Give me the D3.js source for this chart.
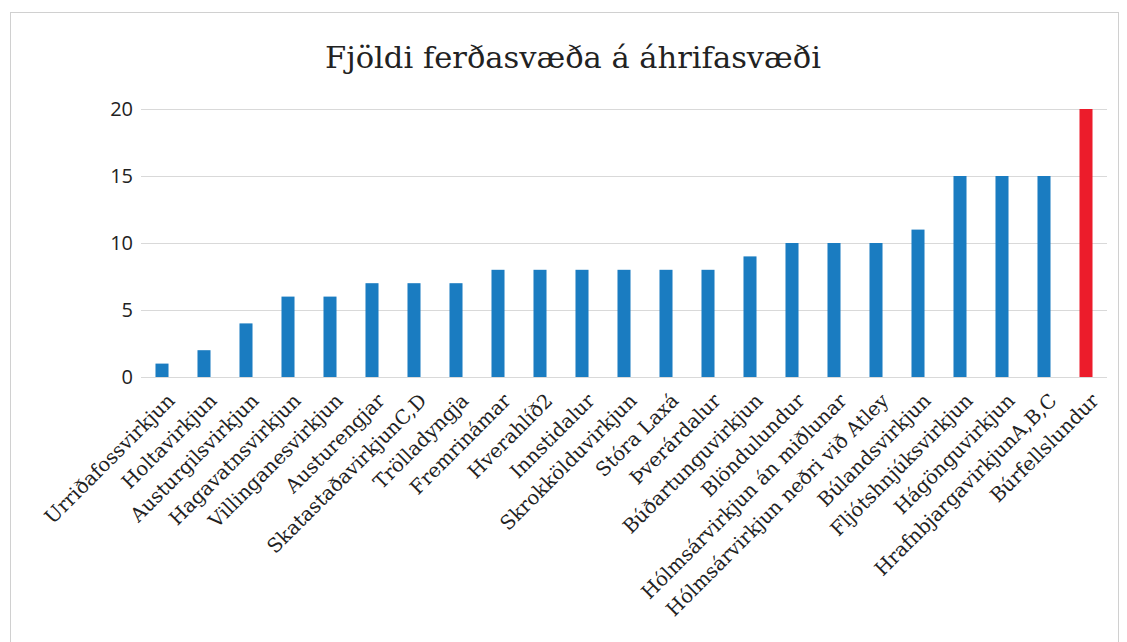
<!DOCTYPE html>
<html><head><meta charset="utf-8">
<script src="https://cdn.jsdelivr.net/npm/d3@7"></script>
<style>body{margin:0;background:#fff}</style>
</head><body>
<svg id="c" width="1127" height="642"></svg>
<script>
const categories = ["Urriðafossvirkjun","Holtavirkjun","Austurgilsvirkjun","Hagavatnsvirkjun","Villinganesvirkjun","Austurengjar","SkatastaðavirkjunC,D","Trölladyngja","Fremrinámar","Hverahlíð2","Innstidalur","Skrokkölduvirkjun","Stóra Laxá","Þverárdalur","Búðartunguvirkjun","Blöndulundur","Hólmsárvirkjun án miðlunar","Hólmsárvirkjun neðri við Atley","Búlandsvirkjun","Fljótshnjúksvirkjun","Hágönguvirkjun","HrafnbjargavirkjunA,B,C","Búrfellslundur"];
const values = [1,2,4,6,6,7,7,7,8,8,8,8,8,8,9,10,10,10,11,15,15,15,20];
const highlight = ["Búrfellslundur"];
const yTicks = [0,5,10,15,20];
const title = "Fjöldi ferðasvæða á áhrifasvæði";

const svg = d3.select("#c");
svg.append("rect").attr("x",10.5).attr("y",12.5).attr("width",1108).attr("height",640).attr("fill","none").attr("stroke","#d0d0d0");

const m = {l:141, r:1107, t:109, b:377};
const x = d3.scaleBand().domain(categories).range([m.l,m.r]).paddingInner(0.69).paddingOuter(0.345);
const y = d3.scaleLinear().domain([0,20]).range([m.b,m.t]);

const t = svg.append("text").attr("x",573).attr("y",68).attr("text-anchor","middle")
  .attr("font-family","'DejaVu Serif', 'Liberation Serif', serif").attr("font-size",30).attr("fill","#222").text(title);
const tw = t.node().getComputedTextLength();
t.attr("font-size", 30 * 496 / tw);

const yAxis = svg.append("g").attr("transform",`translate(${m.l},0)`)
  .call(d3.axisLeft(y).tickValues(yTicks).tickSize(-(m.r-m.l)).tickPadding(8));
yAxis.select(".domain").remove();
yAxis.selectAll("line").attr("stroke","#d9d9d9").attr("stroke-width",1);
yAxis.selectAll("text").attr("font-family","'Open Sans', 'Noto Sans', sans-serif").attr("font-size",20).attr("fill","#222");

svg.append("g").selectAll("rect").data(categories).join("rect")
  .attr("x",d=>x(d)).attr("width",x.bandwidth())
  .attr("y",(d,i)=>y(values[i])).attr("height",(d,i)=>y(0)-y(values[i]))
  .attr("fill",d=>highlight.includes(d)?"#ec1c2b":"#1a7cc1");

const xAxis = svg.append("g").attr("transform",`translate(0,${m.b})`)
  .call(d3.axisBottom(x).tickSize(0));
xAxis.select(".domain").remove();
xAxis.selectAll("text")
  .attr("font-family","'DejaVu Serif', 'Liberation Serif', serif").attr("font-size",19.6).attr("fill","#222")
  .attr("text-anchor","end").attr("dy","0.35em")
  .attr("transform","translate(9,20) rotate(-45)").attr("y",0).attr("x",0);
</script>
</body></html>
